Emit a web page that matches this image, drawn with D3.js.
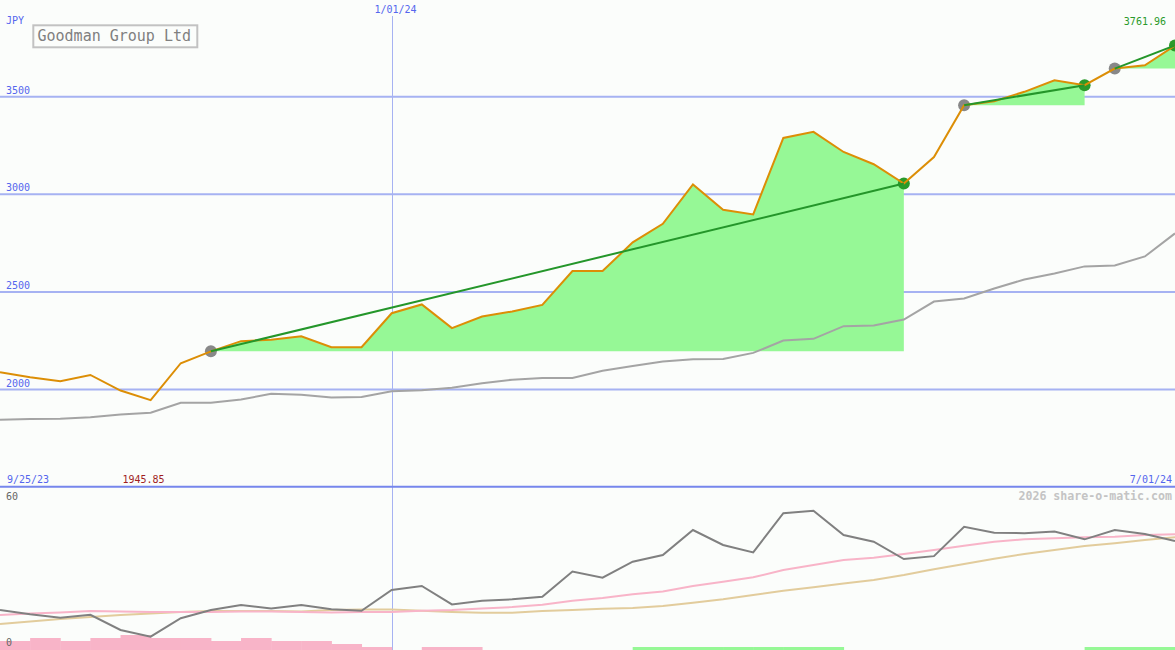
<!DOCTYPE html>
<html>
<head>
<meta charset="utf-8">
<script src="https://cdn.jsdelivr.net/npm/d3@7/dist/d3.min.js"></script>
<style>
  html, body { margin: 0; padding: 0; background: #fbfdfb; }
  svg { display: block; }
  text { font-family: "DejaVu Sans Mono", "Liberation Mono", monospace; }
</style>
</head>
<body>
<svg id="chart" width="1175" height="650"></svg>
<script>
// ---------------- data ----------------
const dates = [
  "2023-10-02","2023-10-09","2023-10-16","2023-10-23","2023-10-30",
  "2023-11-06","2023-11-13","2023-11-20","2023-11-27",
  "2023-12-04","2023-12-11","2023-12-18","2023-12-25",
  "2024-01-01","2024-01-08","2024-01-15","2024-01-22","2024-01-29",
  "2024-02-05","2024-02-12","2024-02-19","2024-02-26",
  "2024-03-04","2024-03-11","2024-03-18","2024-03-25",
  "2024-04-01","2024-04-08","2024-04-15","2024-04-22","2024-04-29",
  "2024-05-06","2024-05-13","2024-05-20","2024-05-27",
  "2024-06-03","2024-06-10","2024-06-17","2024-06-24","2024-07-01"
];
const closeVals = [
  2089, 2063, 2043, 2075, 1995, 1945.85, 2135, 2196, 2248, 2255,
  2273, 2217, 2217, 2391, 2436, 2315, 2374, 2400, 2434, 2607,
  2607, 2754, 2849, 3051, 2921, 2897, 3289, 3320, 3217, 3154,
  3055, 3191, 3456, 3477, 3525, 3584, 3559, 3644, 3661, 3761.96
];
const maVals = [
  1846, 1849, 1851, 1859, 1872, 1882, 1933, 1933, 1949, 1979,
  1974, 1959, 1962, 1992, 1997, 2010, 2033, 2051, 2059, 2059,
  2097, 2121, 2144, 2156, 2157, 2188, 2251, 2260, 2325, 2328,
  2359, 2451, 2467, 2518, 2564, 2595, 2631, 2636, 2682, 2800
];
const trendSegments = [
  { start: 7, end: 30 },
  { start: 32, end: 36 },
  { start: 37, end: 39 }
];
const oscVals = [
  15.0, 13.4, 12.1, 13.2, 7.5, 5.0, 11.9, 15.0, 16.9, 15.6,
  16.9, 15.3, 14.7, 22.5, 24.0, 17.1, 18.5, 19.0, 20.0, 29.4,
  27.1, 33.1, 35.6, 45.0, 39.4, 36.6, 51.3, 52.2, 43.1, 40.6,
  34.1, 35.2, 46.2, 44.0, 43.8, 44.4, 41.5, 45.0, 43.5, 40.9
];
const oscFast = [
  13.1, 13.7, 14.1, 14.6, 14.4, 14.25, 14.25, 14.25, 14.4, 14.4,
  14.25, 14.1, 14.25, 14.25, 14.75, 15.0, 15.6, 16.1, 17.0, 18.5,
  19.5, 20.9, 21.9, 24.0, 25.6, 27.25, 30.0, 31.9, 33.75, 34.6,
  36.0, 37.5, 39.1, 40.6, 41.5, 41.9, 42.25, 42.5, 43.1, 43.4
];
const oscSlow = [
  9.75, 10.7, 11.6, 12.4, 13.1, 13.7, 14.25, 14.6, 14.6, 14.6,
  14.4, 15.0, 15.2, 15.2, 14.75, 14.25, 14.0, 14.0, 14.6, 15.0,
  15.5, 15.75, 16.5, 17.75, 19.0, 20.6, 22.2, 23.5, 24.9, 26.25,
  28.1, 30.25, 32.25, 34.25, 36.0, 37.5, 39.0, 40.0, 41.25, 42.3
];
const barVals = [
  -3, -4, -3, -4, -5, -4, -4, -3, -4, -3,
  -3, -2, -1, 0, -1, -1, 0, 0, 0, 0,
  0, 1, 1, 1, 1, 1, 1, 1, 0, 0,
  0, 0, 0, 0, 0, 0, 1, 1, 1, 0
];
const priceTicks = [2000, 2500, 3000, 3500];
const oscTicks = [0, 60];
const titleText = "Goodman Group Ltd";
const currencyText = "JPY";
const startLabel = "9/25/23";
const endLabel = "7/01/24";
const midLabel = "1/01/24";
const midDate = "2024-01-01";
const lastLabel = "3761.96";
const minLabel = "1945.85";
const creditText = "2026 share-o-matic.com";

// ---------------- scales ----------------
const parse = d3.timeParse("%Y-%m-%d");
const dts = dates.map(parse);
const W = 1175, H = 650;
const x = d3.scaleTime().domain([dts[0], dts[dts.length - 1]]).range([0, W]);
const y = d3.scaleLinear().domain([2000, 3500]).range([389.6, 96.7]);
const yo = d3.scaleLinear().domain([0, 60]).range([650, 490]);
const yb = d3.scaleLinear().domain([0, 5]).range([650, 635]);

const svg = d3.select("#chart");
svg.append("rect").attr("width", W).attr("height", H).attr("fill", "#fbfdfb");

const gridCol = "#a6b2f2";
const labelBlue = "#5466ee";

// horizontal price grid
svg.append("g").selectAll("line").data(priceTicks).join("line")
  .attr("x1", 0).attr("x2", W)
  .attr("y1", d => y(d)).attr("y2", d => y(d))
  .attr("stroke", gridCol).attr("stroke-width", 2);

// vertical date grid
const xm = Math.round(x(parse(midDate))) + 0.5;
svg.append("line").attr("x1", xm).attr("x2", xm).attr("y1", 16).attr("y2", H)
  .attr("stroke", gridCol).attr("stroke-width", 1);

// divider between panels
svg.append("line").attr("x1", 0).attr("x2", W).attr("y1", 486.7).attr("y2", 486.7)
  .attr("stroke", "#7686ec").attr("stroke-width", 2);

// trend fills
trendSegments.forEach(s => {
  const idx = d3.range(s.start, s.end + 1);
  const base = y(closeVals[s.start]);
  const area = d3.area()
    .x(i => x(dts[i]))
    .y0(base)
    .y1(i => Math.min(base, y(closeVals[i])));
  svg.append("path").datum(idx).attr("d", area).attr("fill", "#96f896");
});

// moving average
const line = d3.line().x((d, i) => x(dts[i])).y(d => y(d));
svg.append("path").datum(maVals).attr("d", line)
  .attr("fill", "none").attr("stroke", "#a4a4a4").attr("stroke-width", 2);

// dots
trendSegments.forEach(s => {
  svg.append("circle").attr("cx", x(dts[s.start])).attr("cy", y(closeVals[s.start]))
    .attr("r", 6).attr("fill", "#888888");
  svg.append("circle").attr("cx", x(dts[s.end])).attr("cy", y(closeVals[s.end]))
    .attr("r", 6).attr("fill", "#2a9a2a");
});

// close line
svg.append("path").datum(closeVals).attr("d", line)
  .attr("fill", "none").attr("stroke", "#dc8e06").attr("stroke-width", 2);

// trend lines
trendSegments.forEach(s => {
  svg.append("line")
    .attr("x1", x(dts[s.start])).attr("y1", y(closeVals[s.start]))
    .attr("x2", x(dts[s.end])).attr("y2", y(closeVals[s.end]))
    .attr("stroke", "#24962a").attr("stroke-width", 2);
});

// ---------------- lower panel ----------------
const bw = x(dts[1]) - x(dts[0]);
svg.append("g").selectAll("rect").data(barVals).join("rect")
  .attr("x", (d, i) => x(dts[i]))
  .attr("width", bw + 0.5)
  .attr("y", d => yb(Math.abs(d)))
  .attr("height", d => yb(0) - yb(Math.abs(d)))
  .attr("fill", d => d < 0 ? "#f8b4c8" : "#96f896");

const lineO = d3.line().x((d, i) => x(dts[i])).y(d => yo(d));
svg.append("path").datum(oscSlow).attr("d", lineO)
  .attr("fill", "none").attr("stroke", "#e2cc9c").attr("stroke-width", 2);
svg.append("path").datum(oscFast).attr("d", lineO)
  .attr("fill", "none").attr("stroke", "#f8b4c8").attr("stroke-width", 2);
svg.append("path").datum(oscVals).attr("d", lineO)
  .attr("fill", "none").attr("stroke", "#808080").attr("stroke-width", 2);

// ---------------- text ----------------
svg.append("g").selectAll("text").data(priceTicks).join("text")
  .attr("x", 6).attr("y", d => y(d) - 3)
  .attr("font-size", 10).attr("fill", labelBlue).text(d => d);

svg.append("text").attr("x", 6).attr("y", 24).attr("font-size", 10)
  .attr("fill", labelBlue).text(currencyText);

svg.append("text").attr("x", xm + 3).attr("y", 12.5).attr("font-size", 10)
  .attr("text-anchor", "middle").attr("fill", labelBlue).text(midLabel);

svg.append("text").attr("x", 1166).attr("y", 25).attr("font-size", 10)
  .attr("text-anchor", "end").attr("fill", "#2a9a2a").text(lastLabel);

svg.append("text").attr("x", 7).attr("y", 482.7).attr("font-size", 10)
  .attr("fill", labelBlue).text(startLabel);
svg.append("text").attr("x", 1172).attr("y", 482.7).attr("font-size", 10)
  .attr("text-anchor", "end").attr("fill", labelBlue).text(endLabel);
svg.append("text").attr("x", 122.5).attr("y", 482.7).attr("font-size", 10)
  .attr("fill", "#a01e1e").text(minLabel);

svg.append("text").attr("x", 1172).attr("y", 500).attr("font-size", 11.6)
  .attr("font-weight", "bold").attr("text-anchor", "end").attr("fill", "#c4c4c4").text(creditText);

svg.append("g").selectAll("text").data(oscTicks).join("text")
  .attr("x", 6).attr("y", d => d === 0 ? 646 : 499.5)
  .attr("font-size", 10).attr("fill", "#666666").text(d => d);

// title box
svg.append("rect").attr("x", 33.3).attr("y", 25.3).attr("width", 164).attr("height", 22)
  .attr("fill", "#fbfdfb").attr("stroke", "#c2c2c2").attr("stroke-width", 2);
svg.append("text").attr("x", 37.5).attr("y", 40.8).attr("font-size", 15)
  .attr("fill", "#808080").text(titleText);
</script>
</body>
</html>
